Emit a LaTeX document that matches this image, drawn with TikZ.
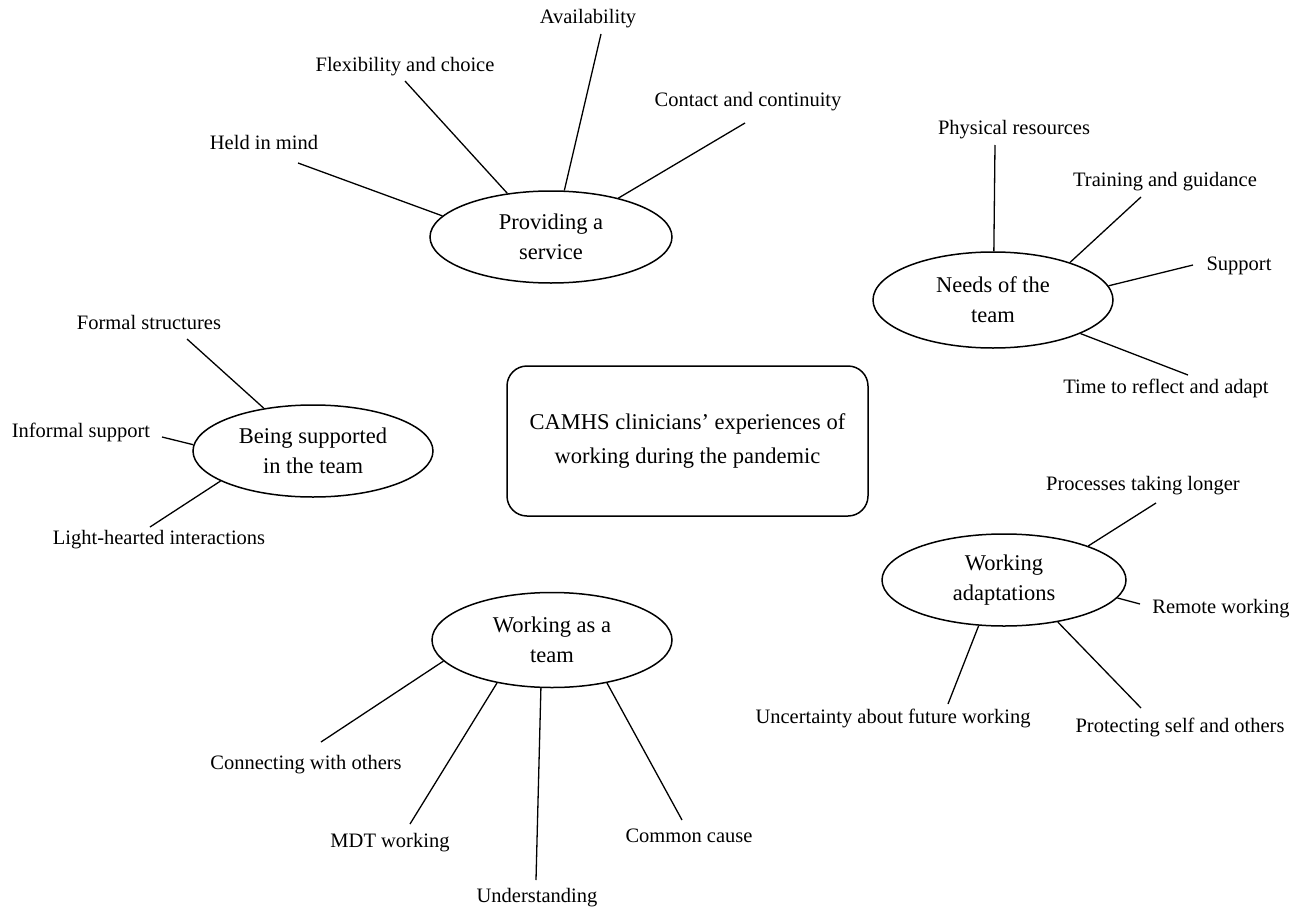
\documentclass[tikz,border=0pt]{standalone}
\usepackage{fontspec}
\setmainfont{Liberation Serif}
\usetikzlibrary{shapes.geometric}
\begin{document}
\begin{tikzpicture}[x=1pt,y=-1pt,
  theme/.style={ellipse,draw,line width=1.5pt,inner sep=0pt,align=center,
    font=\fontsize{22.5}{30}\selectfont},
  leaf/.style={inner sep=0pt,font=\fontsize{20.5}{24}\selectfont},
  conn/.style={line width=1.3pt}]
\useasboundingbox (0,0) rectangle (1302,910);
% central box
\node[draw,line width=1.5pt,rounded corners=20pt,minimum width=361pt,minimum height=150pt,
  align=center,font=\fontsize{22.5}{34}\selectfont] (core) at (687.5,441)
  {CAMHS clinicians' experiences of\\working during the pandemic};
% themes
\node[theme,minimum width=242pt,minimum height=92pt] (prov) at (551,237) {Providing a\\service};
\node[theme,minimum width=240pt,minimum height=96pt] (needs) at (993,300) {Needs of the\\team};
\node[theme,minimum width=240pt,minimum height=92pt] (supp) at (313,451) {Being supported\\in the team};
\node[theme,minimum width=240pt,minimum height=95pt] (team) at (552,640) {Working as a\\team};
\node[theme,minimum width=244pt,minimum height=92pt] (adapt) at (1004,580) {Working\\adaptations};
% leaf labels
\node[leaf] (held) at (264,142) {Held in mind};
\node[leaf] (flex) at (405,67) {Flexibility and choice};
\node[leaf] (avail) at (588,19) {Availability};
\node[leaf] (cont) at (748,102) {Contact and continuity};
\node[leaf] (phys) at (1014,130) {Physical resources};
\node[leaf] (train) at (1165,182) {Training and guidance};
\node[leaf] (sup) at (1239,266) {Support};
\node[leaf] (time) at (1166,388) {Time to reflect and adapt};
\node[leaf] (formal) at (149,322) {Formal structures};
\node[leaf] (inf) at (81,432) {Informal support};
\node[leaf] (light) at (159,540) {Light-hearted interactions};
\node[leaf] (conw) at (306,765) {Connecting with others};
\node[leaf] (mdt) at (390,843) {MDT working};
\node[leaf] (und) at (537,898) {Understanding};
\node[leaf] (comm) at (689,836) {Common cause};
\node[leaf] (proc) at (1143,486) {Processes taking longer};
\node[leaf] (rem) at (1221,609) {Remote working};
\node[leaf] (prot) at (1180,727) {Protecting self and others};
\node[leaf] (unc) at (893,718) {Uncertainty about future working};
% free ends
\coordinate (c1) at (298,163);
\coordinate (c2) at (405,81);
\coordinate (c3) at (601,34);
\coordinate (c4) at (745,123);
\coordinate (c5) at (995,145);
\coordinate (c6) at (1141,197);
\coordinate (c7) at (1193,265);
\coordinate (c8) at (1188,375);
\coordinate (c9) at (187,339);
\coordinate (c10) at (162,437);
\coordinate (c11) at (150,527);
\coordinate (c12) at (321,742);
\coordinate (c13) at (410,824);
\coordinate (c14) at (536,880);
\coordinate (c15) at (682,820);
\coordinate (c16) at (1156,503);
\coordinate (c17) at (1140,604);
\coordinate (c18) at (1141,708);
\coordinate (c19) at (948,704);
% connectors
\draw[conn] (prov.169) -- (c1);
\draw[conn] (prov.135) -- (c2);
\draw[conn] (prov.74) -- (c3);
\draw[conn] (prov.30) -- (c4);
\draw[conn] (needs.89) -- (c5);
\draw[conn] (needs.26) -- (c6);
\draw[conn] (needs.7) -- (c7);
\draw[conn] (needs.-21) -- (c8);
\draw[conn] (supp.139) -- (c9);
\draw[conn] (supp.177) -- (c10);
\draw[conn] (supp.198) -- (c11);
\draw[conn] (team.191) -- (c12);
\draw[conn] (team.218) -- (c13);
\draw[conn] (team.257) -- (c14);
\draw[conn] (team.322) -- (c15);
\draw[conn] (adapt.22) -- (c16);
\draw[conn] (adapt.-9) -- (c17);
\draw[conn] (adapt.-38) -- (c18);
\draw[conn] (adapt.241) -- (c19);
\end{tikzpicture}
\end{document}
